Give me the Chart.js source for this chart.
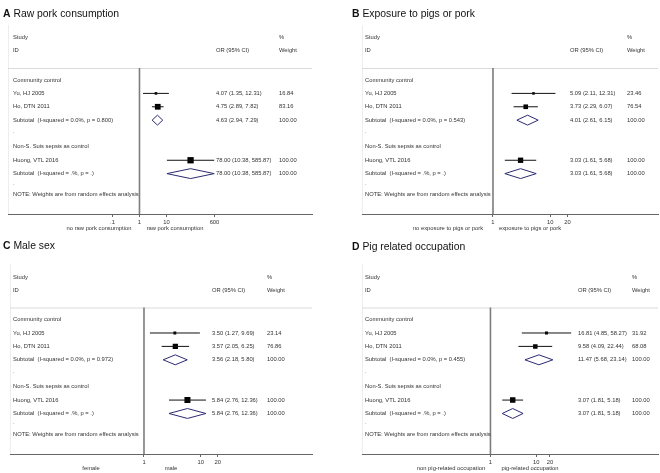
<!DOCTYPE html>
<html>
<head>
<meta charset="utf-8">
<script src="https://cdn.jsdelivr.net/npm/chart.js@4.4.0/dist/chart.umd.min.js"></script>
<style>
  html, body { margin: 0; padding: 0; background: #fff; }
  body { width: 660px; height: 473px; position: relative; overflow: hidden; }
  canvas { position: absolute; }
</style>
</head>
<body>
<canvas id="chartA" width="330" height="239" style="left:0;top:0"></canvas>
<canvas id="chartB" width="330" height="239" style="left:330px;top:0"></canvas>
<canvas id="chartC" width="330" height="234" style="left:0;top:239px"></canvas>
<canvas id="chartD" width="330" height="234" style="left:330px;top:239px"></canvas>
<script>
/* shared table labels */
const studies = ['Yu, HJ 2005', 'Ho, DTN 2011', 'Huong, VTL 2016'];
const groups = ['Community control', 'Non-S. Suis sepsis as control'];
const subtotalWt = [100.00, 100.00];

/* A - raw pork consumption */
const porkOR = [4.07, 4.75, 78.00];
const porkLo = [1.35, 2.89, 10.38];
const porkHi = [12.31, 7.82, 585.87];
const porkWt = [16.84, 83.16, 100.00];
const porkSubOR = [4.63, 78.00];
const porkSubLo = [2.94, 10.38];
const porkSubHi = [7.29, 585.87];
const porkHet = ['I-squared = 0.0%, p = 0.800', 'I-squared = .%, p = .'];
const porkTicks = [0.1, 1, 10, 600];
const porkTickLabels = ['.1', '1', '10', '600'];
const porkSides = ['no raw pork consumption', 'raw pork consumption'];

/* B - exposure to pigs or pork */
const pigsOR = [5.09, 3.73, 3.03];
const pigsLo = [2.11, 2.29, 1.61];
const pigsHi = [12.31, 6.07, 5.68];
const pigsWt = [23.46, 76.54, 100.00];
const pigsSubOR = [4.01, 3.03];
const pigsSubLo = [2.61, 1.61];
const pigsSubHi = [6.15, 5.68];
const pigsHet = ['I-squared = 0.0%, p = 0.543', 'I-squared = .%, p = .'];
const pigsTicks = [1, 10, 20];
const pigsTickLabels = ['1', '10', '20'];
const pigsSides = ['no exposure to pigs or pork', 'exposure to pigs or pork'];

/* C - male sex */
const sexOR = [3.50, 3.57, 5.84];
const sexLo = [1.27, 2.05, 2.76];
const sexHi = [9.69, 6.25, 12.36];
const sexWt = [23.14, 76.86, 100.00];
const sexSubOR = [3.56, 5.84];
const sexSubLo = [2.18, 2.76];
const sexSubHi = [5.80, 12.36];
const sexHet = ['I-squared = 0.0%, p = 0.972', 'I-squared = .%, p = .'];
const sexTicks = [1, 10, 20];
const sexTickLabels = ['1', '10', '20'];
const sexSides = ['female', 'male'];

/* D - pig related occupation */
const jobOR = [16.81, 9.58, 3.07];
const jobLo = [4.85, 4.09, 1.81];
const jobHi = [58.27, 22.44, 5.18];
const jobWt = [31.92, 68.08, 100.00];
const jobSubOR = [11.47, 3.07];
const jobSubLo = [5.68, 1.81];
const jobSubHi = [23.14, 5.18];
const jobHet = ['I-squared = 0.0%, p = 0.455', 'I-squared = .%, p = .'];
const jobTicks = [1, 10, 20];
const jobTickLabels = ['1', '10', '20'];
const jobSides = ['non pig-related occupation', 'pig-related occupation'];

/* row positions (units of the y scale) */
const groupRows = [0, 5];
const studyRows = [1, 2, 6];
const subRows = [3, 7];
const dotRows = [3.85, 7.7];
const noteRow = 8.55;
const headRows = [-3.16, -2.19];

const FONT = '"Liberation Sans", Arial, Helvetica, sans-serif';
const NAVY = '#2a2a72';

function fmt(v) { return v.toFixed(2); }

function buildPanel(canvasId, L, d) {
    const datasets = [];
    /* CI lines */
    d.or.forEach((v, i) => {
        datasets.push({
            data: [{ x: d.lo[i], y: studyRows[i] }, { x: d.hi[i], y: studyRows[i] }],
            showLine: true, borderColor: '#111', borderWidth: 1, pointRadius: 0
        });
    });
    /* weighted boxes */
    datasets.push({
        data: d.or.map((v, i) => ({ x: v, y: studyRows[i] })),
        pointStyle: 'rect',
        pointRadius: d.wt.map(w => L.box * Math.sqrt(w / 100) / Math.SQRT2),
        backgroundColor: '#000', borderWidth: 0
    });
    /* subtotal diamonds */
    d.subOR.forEach((m, i) => {
        const r = subRows[i];
        datasets.push({
            data: [{ x: d.subLo[i], y: r }, { x: m, y: r - 0.37 }, { x: d.subHi[i], y: r },
                   { x: m, y: r + 0.37 }, { x: d.subLo[i], y: r }],
            showLine: true, borderColor: NAVY, borderWidth: 1, pointRadius: 0, tension: 0
        });
    });

    const forestText = {
        id: 'forestText',
        beforeDatasetsDraw(chart) {
            const { ctx, chartArea: a, scales: { x } } = chart;
            ctx.save();
            ctx.lineWidth = 1;
            ctx.strokeStyle = '#ededed';
            ctx.beginPath(); ctx.moveTo(a.left + 0.5, 25); ctx.lineTo(a.left + 0.5, a.bottom); ctx.stroke();
            ctx.strokeStyle = '#dadada';
            ctx.beginPath(); ctx.moveTo(a.left, a.top + 0.5); ctx.lineTo(a.right, a.top + 0.5); ctx.stroke();
            const x1 = x.getPixelForValue(1);
            ctx.strokeStyle = '#7d7d7d'; ctx.lineWidth = 1.6;
            ctx.beginPath(); ctx.moveTo(x1, a.top); ctx.lineTo(x1, a.bottom); ctx.stroke();
            ctx.restore();
        },
        afterDraw(chart) {
            const { ctx, chartArea: a, scales: { y } } = chart;
            ctx.save();
            ctx.fillStyle = '#333';
            ctx.font = '5.8px ' + FONT;
            ctx.textBaseline = 'middle';
            ctx.textAlign = 'left';
            const t = (s, px, row) => ctx.fillText(s, px, y.getPixelForValue(row));
            t('Study', L.textX, headRows[0]);
            t('ID', L.textX, headRows[1]);
            t('OR (95% CI)', L.orX, headRows[1]);
            t('%', L.wtX, headRows[0]);
            t('Weight', L.wtX, headRows[1]);
            groups.forEach((g, i) => t(g, L.textX, groupRows[i]));
            studies.forEach((s, i) => {
                t(s, L.textX, studyRows[i]);
                t(fmt(d.or[i]) + ' (' + fmt(d.lo[i]) + ', ' + fmt(d.hi[i]) + ')', L.orX, studyRows[i]);
                t(fmt(d.wt[i]), L.wtX, studyRows[i]);
            });
            d.subOR.forEach((m, i) => {
                t('Subtotal  (' + d.het[i] + ')', L.textX, subRows[i]);
                t(fmt(m) + ' (' + fmt(d.subLo[i]) + ', ' + fmt(d.subHi[i]) + ')', L.orX, subRows[i]);
                t(fmt(subtotalWt[i]), L.wtX, subRows[i]);
            });
            dotRows.forEach(r => t('.', L.textX, r));
            t('NOTE: Weights are from random effects analysis', L.textX, noteRow);

            /* favours labels under the axis */
            ctx.textAlign = 'center';
            ctx.fillText(d.sides[0], L.sideX[0], a.bottom + 14.5);
            ctx.fillText(d.sides[1], L.sideX[1], a.bottom + 14.5);

            /* panel title */
            ctx.textAlign = 'left';
            ctx.fillStyle = '#111';
            ctx.font = 'bold 10.4px ' + FONT;
            ctx.fillText(L.letter, L.titleX, L.titleY);
            const w = ctx.measureText(L.letter).width;
            ctx.font = '10.4px ' + FONT;
            ctx.fillText(' ' + L.title, L.titleX + w, L.titleY);
            ctx.restore();
        }
    };

    const el = document.getElementById(canvasId);
    new Chart(el, {
        type: 'scatter',
        data: { datasets: datasets },
        options: {
            responsive: false,
            animation: false,
            events: [],
            layout: {
                autoPadding: false,
                padding: { left: L.left, right: el.width - L.right, top: L.top, bottom: el.height - L.axisY - 12 }
            },
            plugins: { legend: { display: false }, tooltip: { enabled: false } },
            scales: {
                x: {
                    type: 'logarithmic',
                    position: 'bottom',
                    min: Math.pow(10, L.xExp[0]),
                    max: Math.pow(10, L.xExp[1]),
                    bounds: 'data',
                    afterBuildTicks: s => { s.ticks = d.ticks.map(v => ({ value: v })); },
                    afterFit: s => { s.height = 12; },
                    grid: { drawOnChartArea: false, drawTicks: true, tickLength: 3, color: '#666', lineWidth: 1 },
                    border: { display: true, color: '#666', width: 1 },
                    ticks: {
                        autoSkip: false, maxRotation: 0, padding: 2, color: '#333',
                        font: { size: 5.8, family: FONT },
                        callback: (v, i) => d.tickLabels[i]
                    }
                },
                y: { type: 'linear', display: false, min: -0.9, max: 10.02, reverse: true }
            }
        },
        plugins: [forestText]
    });
}

buildPanel('chartA',
    { letter: 'A', title: 'Raw pork consumption', titleX: 3, titleY: 14, left: 8, right: 312, top: 68, axisY: 214,
      textX: 13, orX: 216, wtX: 279, box: 6.3, xExp: [-4.87, 6.39], sideX: [99, 175] },
    { or: porkOR, lo: porkLo, hi: porkHi, wt: porkWt, subOR: porkSubOR, subLo: porkSubLo, subHi: porkSubHi,
      het: porkHet, ticks: porkTicks, tickLabels: porkTickLabels, sides: porkSides });

buildPanel('chartB',
    { letter: 'B', title: 'Exposure to pigs or pork', titleX: 22, titleY: 14, left: 32, right: 328, top: 68, axisY: 214,
      textX: 35, orX: 240, wtX: 297, box: 5.3, xExp: [-2.286, 2.88], sideX: [118, 200] },
    { or: pigsOR, lo: pigsLo, hi: pigsHi, wt: pigsWt, subOR: pigsSubOR, subLo: pigsSubLo, subHi: pigsSubHi,
      het: pigsHet, ticks: pigsTicks, tickLabels: pigsTickLabels, sides: pigsSides });

buildPanel('chartC',
    { letter: 'C', title: 'Male sex', titleX: 3, titleY: 7.5, left: 10, right: 312, top: 68.5, axisY: 215,
      textX: 13, orX: 212, wtX: 267, box: 6, xExp: [-2.363, 2.963], sideX: [91, 171] },
    { or: sexOR, lo: sexLo, hi: sexHi, wt: sexWt, subOR: sexSubOR, subLo: sexSubLo, subHi: sexSubHi,
      het: sexHet, ticks: sexTicks, tickLabels: sexTickLabels, sides: sexSides });

buildPanel('chartD',
    { letter: 'D', title: 'Pig related occupation', titleX: 22, titleY: 8.5, left: 32, right: 328, top: 68.5, axisY: 215,
      textX: 35, orX: 248, wtX: 302, box: 5.4, xExp: [-2.81, 3.665], sideX: [121, 200] },
    { or: jobOR, lo: jobLo, hi: jobHi, wt: jobWt, subOR: jobSubOR, subLo: jobSubLo, subHi: jobSubHi,
      het: jobHet, ticks: jobTicks, tickLabels: jobTickLabels, sides: jobSides });
</script>
</body>
</html>
